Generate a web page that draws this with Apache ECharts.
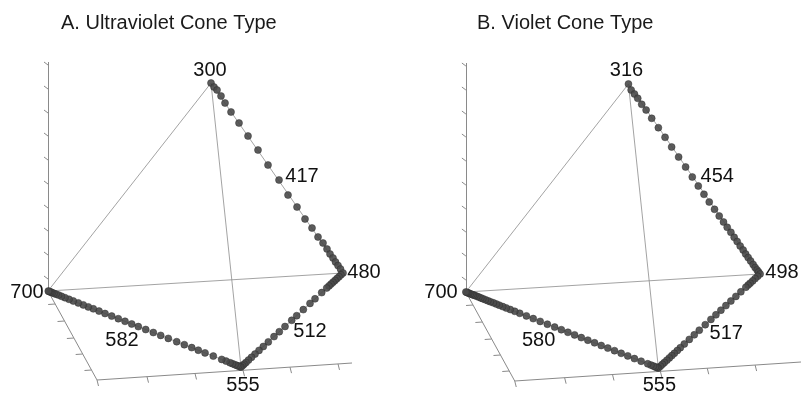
<!DOCTYPE html>
<html><head><meta charset="utf-8">
<script src="https://cdn.jsdelivr.net/npm/echarts@6/dist/echarts.min.js"></script>
<style>html,body{margin:0;padding:0;background:#fff}#c{width:801px;height:394px}</style>
</head><body><div id="c"></div>
<script>
// ---- data (projected tetrahedral colour-space coordinates) ----
const panelTitles = ['A. Ultraviolet Cone Type', 'B. Violet Cone Type'];

// tetrahedron vertices
const vLeft = [0, 0], vTop = [163, 208], vRight = [295, 18], vBottom = [193, -76];

// box axes
const verticalAxisTop = 229;
const verticalTicks = [12, 36, 60, 83, 107, 131, 155, 178, 202, 226];
const floorCorner = [49, -89];
const floorEnds = [[304, -72], [336, -70]];
const sideTicks = [-13, -30, -47, -63, -79];
const bottomTicks = [49, 99, 147, 195, 242, 290];

// spectral locus, panel A (300 -> 480 -> 555 -> 700 nm)
const locusA = [
  [163,208],[166,204],[169,201],[173,195],[177,188],[183,179],[191,168],[200,155],[210,141],[220,126],
  [231,111],[240,96],[249,84],[257,72],[264,63],[270,54],[275,48],[279,42],[282,37],[285,33],
  [287.5,29],[290,25.5],[292.5,22],[295,18],
  [293,16.2],[291,14.3],[289,12.5],[287,10.6],[285,8.8],[283,6.9],[281,5.1],[278.7,3],[273.7,-1.6],
  [267,-7.8],[262,-12.4],[255.3,-18.6],[248.7,-24.7],[243.7,-29.3],[237,-35.5],[231.3,-40.7],[226,-45.6],
  [220.3,-50.9],[215.3,-55.5],[211,-59.4],[207,-63.1],[203.5,-66.3],[200.5,-69.1],[198,-71.4],[196,-73.2],
  [194.5,-74.6],[193,-76],
  [192,-75.6],[190.5,-75.1],[189,-74.5],[187,-73.7],[184.5,-72.7],[182,-71.7],[178,-70.1],[173.7,-68.4],
  [165.3,-65.1],[157,-61.9],[150.3,-59.2],[143.7,-56.6],[136.3,-53.7],[128.7,-50.7],[120.3,-47.4],
  [112.7,-44.4],[105.3,-41.5],[97.7,-38.5],[90.3,-35.6],[83.7,-33],[77,-30.3],[70.3,-27.7],[63.7,-25.1],
  [57,-22.5],[51,-20.1],[45.3,-17.8],[40.3,-15.9],[35.3,-13.9],[30.3,-11.9],[25.3,-10],[21,-8.3],
  [17,-6.7],[13.5,-5.3],[10.5,-4.1],[8,-3.2],[6,-2.4],[4.3,-1.7],[3,-1.2],[2,-0.8],[1,-0.4],[0.3,-0.1]
];

// spectral locus, panel B (316 -> 498 -> 555 -> 700 nm)
const locusB = [
  [163,208],[165.7,202],[169,198],[172.3,193.7],[176.3,187.7],[180.7,182],[186.3,173.7],[193,164.3],
  [199.7,154.7],[206.3,145],[213.3,135],[220.3,125],[227,115],[233,106],[238.7,97.7],[244,90],
  [249.3,82.7],[254,76],[258.3,70],[262,64.7],[265.7,59.7],[269,54.7],[272,50.5],[275,46],[278,42],
  [280.5,38],[283,34.5],[285.5,31],[288,27.5],[290,24.5],[292,22],[293.5,20],[295,18],
  [292.5,15.7],[290,13.4],[287.5,11.1],[285,8.8],[283,6.9],[280.7,4.8],[275.7,0.2],[270.7,-4.4],
  [265.7,-9],[260.7,-13.6],[255.7,-18.2],[250.7,-22.8],[245.7,-27.4],[240,-32.7],[234,-38.2],[229,-42.8],
  [224,-47.4],[219,-52],[215,-55.7],[212,-58.5],[209,-61.3],[206.5,-63.6],[204,-65.9],[201.5,-68.2],
  [199,-70.5],[197,-72.3],[195,-74.2],[193,-76],
  [191.5,-75.4],[190,-74.9],[188,-74.1],[185.5,-73.1],[182.3,-71.8],[175.7,-69.2],[169,-66.6],[162.3,-63.9],
  [155.7,-61.3],[149,-58.7],[142.3,-56.1],[135.7,-53.5],[129,-50.8],[122.3,-48.2],[115.7,-45.6],[109,-42.9],
  [102.3,-40.3],[95.7,-37.7],[89,-35.1],[81.7,-32.2],[74.5,-29.4],[67.5,-26.6],[60.7,-23.9],[54,-21.3],
  [49,-19.3],[44.5,-17.5],[40.5,-16],[37,-14.6],[33.5,-13.2],[30.5,-12],[27.5,-10.8],[24.5,-9.7],[22,-8.7],
  [19.5,-7.7],[17,-6.7],[15,-5.9],[13,-5.1],[11,-4.3],[9,-3.5],[7.5,-3],[6,-2.4],[4.5,-1.8],[3,-1.2],
  [2,-0.8],[1,-0.4],[0,0]
];

// wavelength labels (nm) and their positions
const labelTextA = ['300', '417', '480', '512', '555', '700', '582'];
const labelXA = [162, 254, 316, 262, 195, -21, 74];
const labelYA = [221, 115, 19, -40, -94, -1, -49];
const labelTextB = ['316', '454', '498', '517', '555', '700', '580'];
const labelXB = [161, 252, 317, 261, 194, -25, 73];
const labelYB = [222, 116, 20, -41, -93, 0, -48];

// ---- chart ----
const FONT = 'Liberation Sans, Arial, Helvetica, sans-serif';
const chart = echarts.init(document.getElementById('c'), null, {renderer: 'canvas'});

function seg(a, b) { return {coords: [a, b]}; }
function onLine(p, q, t) { return [p[0] + (q[0] - p[0]) * t, p[1] + (q[1] - p[1]) * t]; }

function frameSeries(idx) {
  const axisSegs = [seg([0, 0], [0, verticalAxisTop]), seg([0, 0], floorCorner), seg(floorCorner, floorEnds[idx])];
  verticalTicks.forEach(y => axisSegs.push(seg([0, y], [-4, y + 3])));
  sideTicks.forEach(y => {
    const p = onLine([0, 0], floorCorner, y / floorCorner[1]);
    axisSegs.push(seg(p, [p[0] - 7, p[1] - 0.5]));
  });
  const fe = floorEnds[idx];
  bottomTicks.forEach(x => {
    const p = onLine(floorCorner, fe, (x - floorCorner[0]) / (fe[0] - floorCorner[0]));
    axisSegs.push(seg(p, [p[0] + 1.5, p[1] - 6]));
  });
  const edgeSegs = [seg(vTop, vLeft), seg(vTop, vBottom), seg(vLeft, vRight),
                    seg(vTop, vRight), seg(vRight, vBottom), seg(vBottom, vLeft)];
  return [
    {type: 'lines', coordinateSystem: 'cartesian2d', xAxisIndex: idx, yAxisIndex: idx, silent: true,
     data: axisSegs, lineStyle: {color: '#8a8a8a', width: 1, opacity: 1}, z: 1},
    {type: 'lines', coordinateSystem: 'cartesian2d', xAxisIndex: idx, yAxisIndex: idx, silent: true,
     data: edgeSegs, lineStyle: {color: '#8c8c8c', width: 0.8, opacity: 1}, z: 2}
  ];
}

function locusSeries(idx, pts) {
  return {type: 'scatter', xAxisIndex: idx, yAxisIndex: idx, silent: true, data: pts,
    symbolSize: 7, itemStyle: {color: '#4a4a4a', borderColor: '#2a2a2a', borderWidth: 0.5, opacity: 0.9}, z: 3};
}

function labelSeries(idx, texts, xs, ys) {
  return {type: 'scatter', xAxisIndex: idx, yAxisIndex: idx, silent: true,
    data: texts.map((t, i) => [xs[i], ys[i], t]), symbolSize: 1,
    itemStyle: {color: 'rgba(0,0,0,0)'},
    label: {show: true, position: 'inside', formatter: p => p.value[2], opacity: 1,
      fontFamily: FONT, fontSize: 20, color: '#111'}, z: 4};
}

const grids = [
  {left: 0, top: 0, width: 384, height: 392},
  {left: 418, top: 1, width: 384, height: 392}
];
const axisX = i => ({gridIndex: i, type: 'value', min: -48, max: 336, show: false});
const axisY = i => ({gridIndex: i, type: 'value', min: -101, max: 291, show: false});

const titleStyle = {fontFamily: FONT, fontSize: 20, fontWeight: 'normal', color: '#1a1a1a'};
chart.setOption({
  animation: false,
  backgroundColor: '#ffffff',
  title: [
    {text: panelTitles[0], left: 61, top: 13, padding: 0, textStyle: titleStyle},
    {text: panelTitles[1], left: 477, top: 13, padding: 0, textStyle: titleStyle}
  ],
  grid: grids,
  xAxis: [axisX(0), axisX(1)],
  yAxis: [axisY(0), axisY(1)],
  series: [
    ...frameSeries(0), ...frameSeries(1),
    locusSeries(0, locusA), locusSeries(1, locusB),
    labelSeries(0, labelTextA, labelXA, labelYA),
    labelSeries(1, labelTextB, labelXB, labelYB)
  ]
});
</script></body></html>
